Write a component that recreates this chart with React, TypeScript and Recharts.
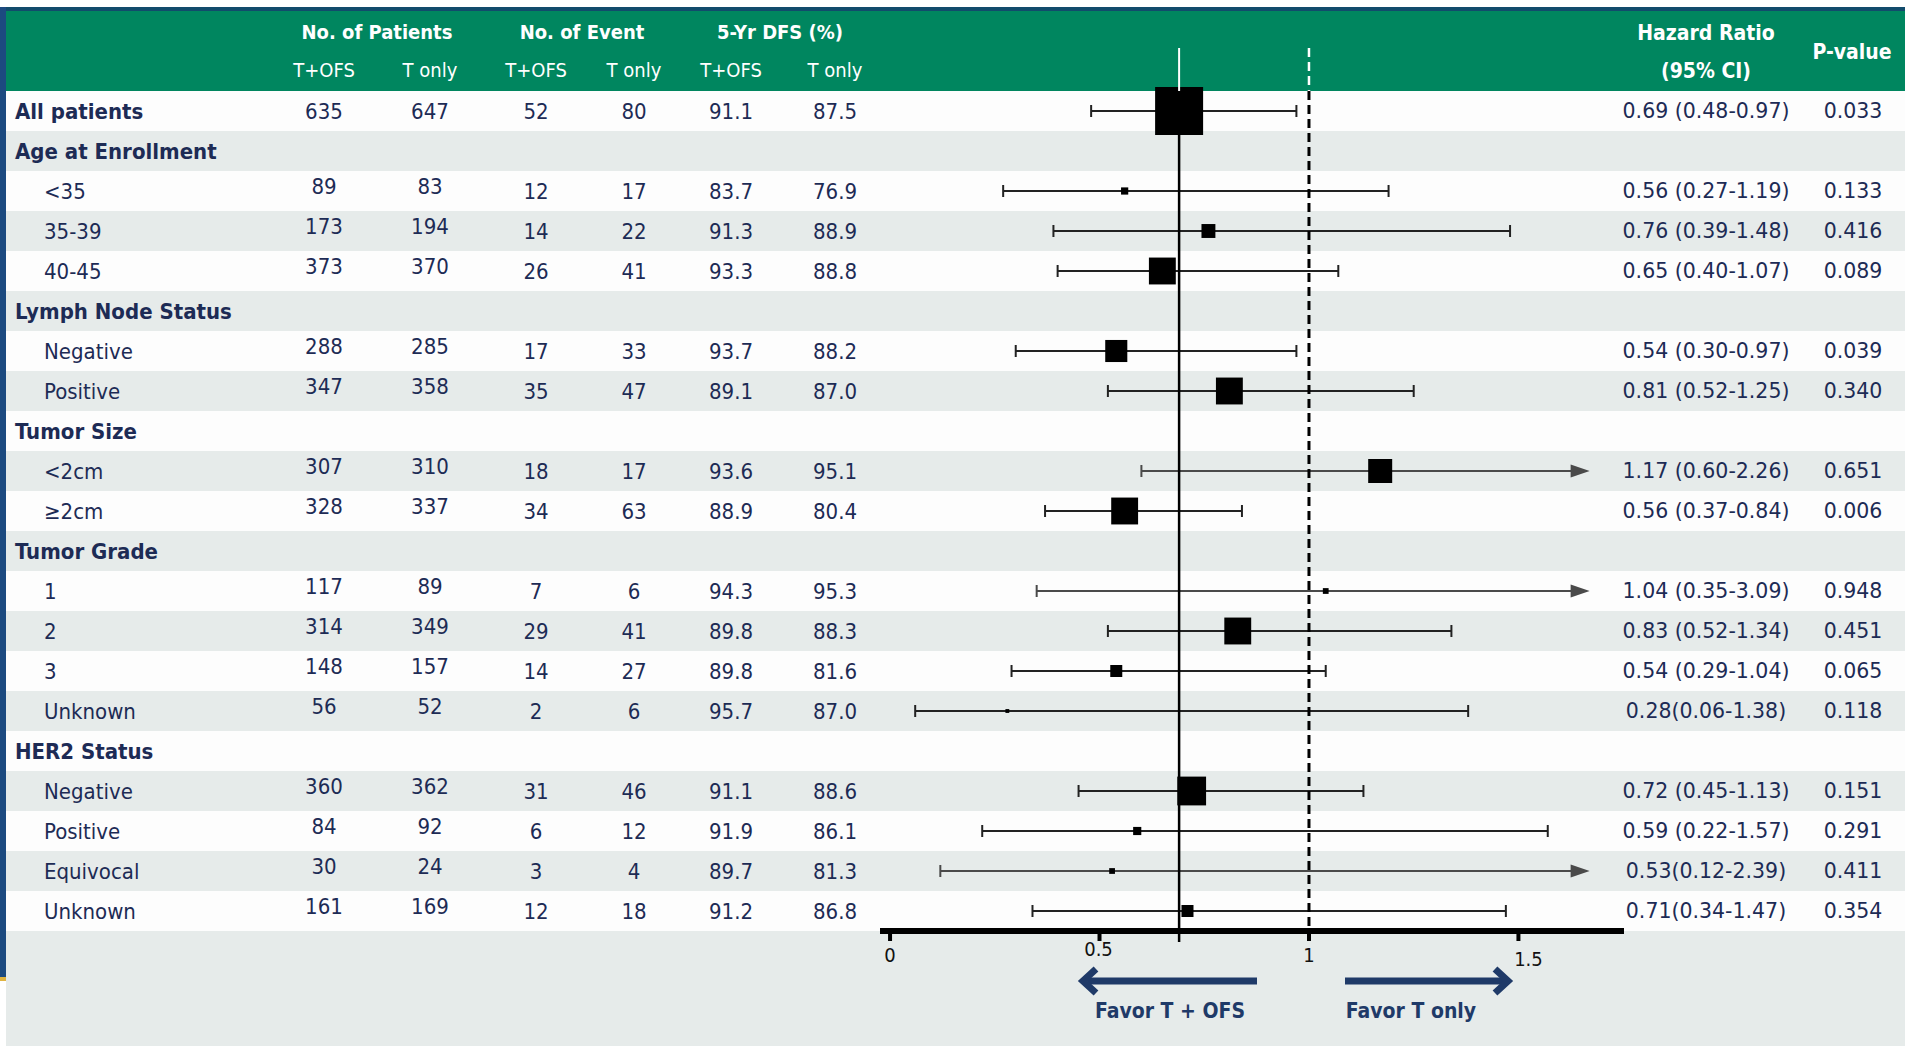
import React from 'react'
import { ComposedChart, Bar, XAxis, YAxis, ReferenceLine, Customized } from 'recharts'

// subgroup rows, top to bottom
const rowLabels = [
  'All patients',
  'Age at Enrollment', '<35', '35-39', '40-45',
  'Lymph Node Status', 'Negative', 'Positive',
  'Tumor Size', '<2cm', '≥2cm',
  'Tumor Grade', '1', '2', '3', 'Unknown',
  'HER2 Status', 'Negative', 'Positive', 'Equivocal', 'Unknown',
]
const groupRows = [0, 1, 5, 8, 11, 16]

const patientsOfs = [635, null, 89, 173, 373, null, 288, 347, null, 307, 328, null, 117, 314, 148, 56, null, 360, 84, 30, 161]
const patientsT = [647, null, 83, 194, 370, null, 285, 358, null, 310, 337, null, 89, 349, 157, 52, null, 362, 92, 24, 169]
const eventsOfs = [52, null, 12, 14, 26, null, 17, 35, null, 18, 34, null, 7, 29, 14, 2, null, 31, 6, 3, 12]
const eventsT = [80, null, 17, 22, 41, null, 33, 47, null, 17, 63, null, 6, 41, 27, 6, null, 46, 12, 4, 18]
const dfsOfs = [91.1, null, 83.7, 91.3, 93.3, null, 93.7, 89.1, null, 93.6, 88.9, null, 94.3, 89.8, 89.8, 95.7, null, 91.1, 91.9, 89.7, 91.2]
const dfsT = [87.5, null, 76.9, 88.9, 88.8, null, 88.2, 87.0, null, 95.1, 80.4, null, 95.3, 88.3, 81.6, 87.0, null, 88.6, 86.1, 81.3, 86.8]

const hazardRatio = [0.69, null, 0.56, 0.76, 0.65, null, 0.54, 0.81, null, 1.17, 0.56, null, 1.04, 0.83, 0.54, 0.28, null, 0.72, 0.59, 0.53, 0.71]
const ciLower = [0.48, null, 0.27, 0.39, 0.40, null, 0.30, 0.52, null, 0.60, 0.37, null, 0.35, 0.52, 0.29, 0.06, null, 0.45, 0.22, 0.12, 0.34]
const ciUpper = [0.97, null, 1.19, 1.48, 1.07, null, 0.97, 1.25, null, 2.26, 0.84, null, 3.09, 1.34, 1.04, 1.38, null, 1.13, 1.57, 2.39, 1.47]
const pValues = ['0.033', null, '0.133', '0.416', '0.089', null, '0.039', '0.340', null, '0.651', '0.006', null, '0.948', '0.451', '0.065', '0.118', null, '0.151', '0.291', '0.411', '0.354']
// relative weight of each estimate (box size scale)
const boxWeight = [1.0, null, 0.15, 0.29, 0.56, null, 0.46, 0.56, null, 0.5, 0.56, null, 0.12, 0.56, 0.25, 0.08, null, 0.6, 0.17, 0.12, 0.25]
// rows printed without a space before the CI
const tightCiRows = [15, 19, 20]

const axisTicks = [0, 0.5, 1, 1.5]
const X_DOMAIN: [number, number] = [-0.024, 1.752]
const ARROW_LIMIT = 1.67

const W = 1905
const H = 1046
const ROW_H = 40
const MAX_BOX = 48

const NAVY = '#1d2b55'
const GREEN = '#00865f'
const GREY = '#e6ebea'
const TABLE_FONT = "'DejaVu Sans Condensed', 'DejaVu Sans', sans-serif"
const CI_FONT = "'DejaVu Sans', Verdana, sans-serif"

const COL = { label: 15, sub: 44, patA: 324, patB: 430, evA: 536, evB: 634, dfsA: 731, dfsB: 835, ci: 1706, p: 1853 }

const rows = rowLabels.map((label, i) => ({
  key: `r${i}`,
  label,
  hr: hazardRatio[i],
  lo: ciLower[i],
  hi: ciUpper[i],
  weight: boxWeight[i],
}))

const ciRange = (d: any) => (d.hr == null ? null : [d.lo, Math.min(d.hi, ARROW_LIMIT)])

function ciText(i: number) {
  const gap = tightCiRows.includes(i) ? '' : ' '
  return `${hazardRatio[i]!.toFixed(2)}${gap}(${ciLower[i]!.toFixed(2)}-${ciUpper[i]!.toFixed(2)})`
}

function RowTick(props: any) {
  const { y, payload } = props
  const i = Number(String(payload.value).slice(1))
  const isGroup = groupRows.includes(i)
  const hasData = hazardRatio[i] != null
  const cell = (x: number, v: any, dy = 0) => (
    <text x={x} y={y + dy} dy="0.36em" textAnchor="middle" fontSize={22} fill={NAVY} fontFamily={TABLE_FONT}>
      {v}
    </text>
  )
  const lift = i === 0 ? 0 : -5
  return (
    <g>
      <rect x={6} y={y - ROW_H / 2} width={W - 6} height={ROW_H} fill={i % 2 ? GREY : '#fdfdfd'} />
      <text
        x={isGroup ? COL.label : COL.sub}
        y={y}
        dy="0.36em"
        fontSize={22}
        fontWeight={isGroup ? 700 : 400}
        fill={NAVY}
        fontFamily={TABLE_FONT}
      >
        {rowLabels[i]}
      </text>
      {hasData && (
        <>
          {cell(COL.patA, patientsOfs[i], lift)}
          {cell(COL.patB, patientsT[i], lift)}
          {cell(COL.evA, eventsOfs[i])}
          {cell(COL.evB, eventsT[i])}
          {cell(COL.dfsA, dfsOfs[i]!.toFixed(1))}
          {cell(COL.dfsB, dfsT[i]!.toFixed(1))}
          <text x={COL.ci} y={y} dy="0.36em" textAnchor="middle" fontSize={20.5} fill={NAVY} fontFamily={CI_FONT}>
            {ciText(i)}
          </text>
          <text x={COL.p} y={y} dy="0.36em" textAnchor="middle" fontSize={20.5} fill={NAVY} fontFamily={CI_FONT}>
            {pValues[i]}
          </text>
        </>
      )}
    </g>
  )
}

const tickNudge: Record<string, [number, number]> = { '0.5': [-1, -6], '1.5': [10, 4] }

function AxisTick(props: any) {
  const { x, y, payload } = props
  const label = String(payload.value)
  const [nx, ny] = tickNudge[label] ?? [0, 0]
  return (
    <text x={x + nx} y={y + ny} dy={19} textAnchor="middle" fontSize={20} fill="#111" fontFamily={TABLE_FONT}>
      {label}
    </text>
  )
}

function CiMark(props: any) {
  const { x, y, width, height, payload } = props
  if (!payload || payload.hr == null || !Number.isFinite(x) || !Number.isFinite(width)) return <g />
  const cy = y + height / 2
  const shownHi = Math.min(payload.hi, ARROW_LIMIT)
  const x0 = x
  const x1 = x + width
  const hx = x0 + (width * (payload.hr - payload.lo)) / (shownHi - payload.lo)
  const clipped = payload.hi > ARROW_LIMIT
  const s = payload.weight * MAX_BOX
  const color = clipped ? '#4a4a4a' : '#222'
  return (
    <g>
      <line x1={x0} y1={cy} x2={clipped ? x1 - 12 : x1} y2={cy} stroke={color} strokeWidth={2} />
      <line x1={x0} y1={cy - 6} x2={x0} y2={cy + 6} stroke={color} strokeWidth={2} />
      {clipped ? (
        <path d={`M${x1},${cy} L${x1 - 19},${cy - 6.5} L${x1 - 19},${cy + 6.5} Z`} fill="#4a4a4a" />
      ) : (
        <line x1={x1} y1={cy - 6} x2={x1} y2={cy + 6} stroke={color} strokeWidth={2} />
      )}
      <rect x={hx - s / 2} y={cy - s / 2} width={s} height={s} fill="#000" />
    </g>
  )
}

// overall estimate line, white across the header band
function OverallLine(p: any) {
  const top = Math.min(p.y1, p.y2)
  const bottom = Math.max(p.y1, p.y2)
  return (
    <g>
      <line x1={p.x1} x2={p.x1} y1={top - 43} y2={top} stroke="#fff" strokeWidth={2} />
      <line x1={p.x1} x2={p.x1} y1={top} y2={bottom + 11} stroke="#000" strokeWidth={2.5} />
    </g>
  )
}

function NullLine(p: any) {
  const top = Math.min(p.y1, p.y2)
  const bottom = Math.max(p.y1, p.y2)
  return (
    <g>
      <line x1={p.x1} x2={p.x1} y1={top - 43} y2={top} stroke="#fff" strokeWidth={2.5} strokeDasharray="9 5" />
      <line x1={p.x1} x2={p.x1} y1={top} y2={bottom} stroke="#000" strokeWidth={3} strokeDasharray="9 5" />
    </g>
  )
}

function Frame() {
  const head = (x: number, y: number, t: string, bold = true, size = 20) => (
    <text x={x} y={y} dy="0.36em" textAnchor="middle" fontSize={size} fontWeight={bold ? 700 : 400} fill="#fff" fontFamily={TABLE_FONT}>
      {t}
    </text>
  )
  const favor = (x: number, t: string) => (
    <text x={x} y={1010} dy="0.36em" textAnchor="middle" fontSize={21} fontWeight={700} fill="#1f3a68" fontFamily={TABLE_FONT}>
      {t}
    </text>
  )
  return (
    <g>
      <rect x={0} y={7} width={W} height={4} fill="#124b6c" />
      <rect x={0} y={11} width={W} height={80} fill={GREEN} />
      <rect x={6} y={931} width={W - 6} height={H - 931} fill={GREY} />
      <rect x={0} y={7} width={6} height={970} fill="#1c4a80" />
      <rect x={0} y={977} width={6} height={4} fill="#e0b441" />

      {head(377, 32, 'No. of Patients')}
      {head(582, 32, 'No. of Event')}
      {head(780, 32, '5-Yr DFS (%)')}
      {head(1706, 32, 'Hazard Ratio', true, 21)}
      {head(COL.patA, 70, 'T+OFS', false)}
      {head(COL.patB, 70, 'T only', false)}
      {head(COL.evA, 70, 'T+OFS', false)}
      {head(COL.evB, 70, 'T only', false)}
      {head(COL.dfsA, 70, 'T+OFS', false)}
      {head(COL.dfsB, 70, 'T only', false)}
      {head(1706, 70, '(95% CI)', true, 21)}
      {head(1852, 51, 'P-value', true, 21)}

      <line x1={1257} y1={981} x2={1088} y2={981} stroke="#1f3a68" strokeWidth={7} />
      <polyline points="1096,969 1083,981 1096,993" fill="none" stroke="#1f3a68" strokeWidth={7} />
      <line x1={1345} y1={981} x2={1503} y2={981} stroke="#1f3a68" strokeWidth={7} />
      <polyline points="1495,969 1508,981 1495,993" fill="none" stroke="#1f3a68" strokeWidth={7} />
      {favor(1170, 'Favor T + OFS')}
      {favor(1411, 'Favor T only')}
    </g>
  )
}

const chartProps = {
  width: W,
  height: H,
  data: rows,
  layout: 'vertical' as const,
  margin: { top: 91, right: 281, bottom: 55, left: 0 },
  barCategoryGap: 0,
}

const layer: React.CSSProperties = { position: 'absolute', left: 0, top: 0 }

export default function App() {
  return (
    <div style={{ position: 'absolute', left: 0, top: 0, width: W, height: H, background: '#fff' }}>
      {/* table layer: header, row bands and row text */}
      <div style={layer}>
        <ComposedChart {...chartProps}>
          <Customized component={<Frame />} />
          <XAxis type="number" domain={X_DOMAIN} allowDataOverflow height={60} tick={false} axisLine={false} tickLine={false} />
          <YAxis
            type="category"
            dataKey="key"
            scale="band"
            width={880}
            interval={0}
            axisLine={false}
            tickLine={false}
            tick={(p: any) => <RowTick {...p} />}
          />
        </ComposedChart>
      </div>
      {/* forest plot layer */}
      <div style={layer}>
        <ComposedChart {...chartProps}>
          <XAxis
            type="number"
            domain={X_DOMAIN}
            allowDataOverflow
            ticks={axisTicks}
            height={60}
            tickSize={10}
            axisLine={{ stroke: '#000', strokeWidth: 6 }}
            tickLine={{ stroke: '#000', strokeWidth: 4 }}
            tick={(p: any) => <AxisTick {...p} />}
          />
          <YAxis type="category" dataKey="key" scale="band" width={880} tick={false} axisLine={false} tickLine={false} />
          <ReferenceLine x={1} shape={(p: any) => <NullLine {...p} />} />
          <ReferenceLine x={hazardRatio[0]!} shape={(p: any) => <OverallLine {...p} />} />
          <Bar dataKey={ciRange} isAnimationActive={false} shape={(p: any) => <CiMark {...p} />} />
        </ComposedChart>
      </div>
    </div>
  )
}
